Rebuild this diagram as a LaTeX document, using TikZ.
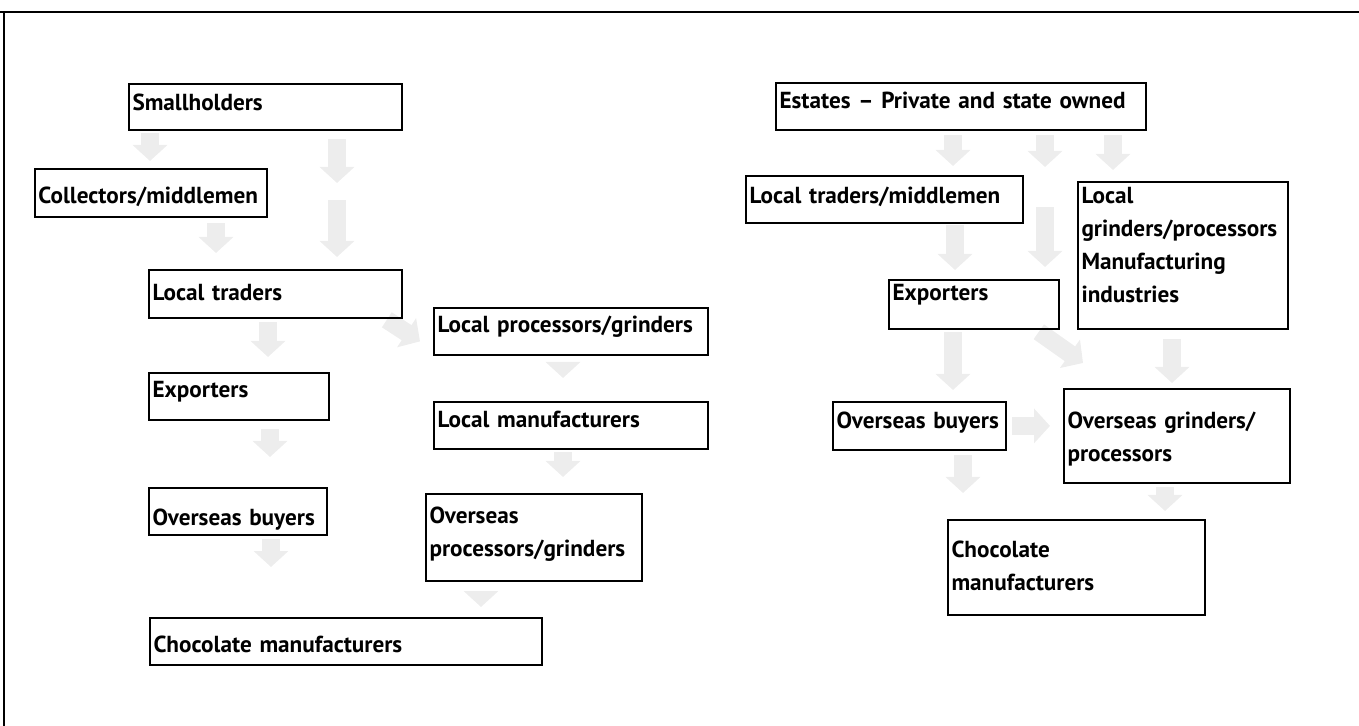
\documentclass[tikz,border=0pt]{standalone}
\usepackage{fontspec}
\setmainfont{PT Sans}
\usetikzlibrary{arrows.meta,calc}
\pgfdeclarelayer{background}
\pgfsetlayers{background,main}

\tikzset{
  box/.style={draw, line width=0.9pt, anchor=north west, inner xsep=1.8pt, inner ysep=0pt,
    align=left, font=\bfseries\fontsize{11.6}{16.5}\selectfont},
  flow/.style={draw=black!7, line width=9pt, -{Triangle[width=17pt,length=8pt]}}
}

\begin{document}
\begin{tikzpicture}[x=0.5pt,y=-0.5pt]
\useasboundingbox (0,0) rectangle (1359,726);
\draw [line width=1pt] (0,12) -- (1359,12);
\draw [line width=1pt] (4,12) -- (4,726);

\node [box, text width=132.9pt, text height=13.5pt, text depth=9.5pt] (sh) at (128,83) {Smallholders};
\node [box, text width=112.4pt, text height=17.5pt, text depth=6.5pt] (cm) at (34,168) {Collectors/middlemen};
\node [box, text width=122.9pt, text height=15.5pt, text depth=8.5pt] (lt) at (148,269) {Local traders};
\node [box, text width=133.4pt, text height=12.5pt, text depth=11pt] (lp) at (433,307) {Local processors/grinders};
\node [box, text width=86.4pt, text height=12.5pt, text depth=11pt] (ex) at (148,372) {Exporters};
\node [box, text width=133.4pt, text height=13pt, text depth=10.5pt] (lm) at (433,401) {Local manufacturers};
\node [box, text width=85.4pt, text height=19pt, text depth=4.5pt] (ob) at (148,487) {Overseas buyers};
\node [box, text width=104.4pt, text height=15pt, text depth=28.5pt] (op) at (425,493) {Overseas\\processors/grinders};
\node [box, text width=192.4pt, text height=17.5pt, text depth=6pt] (ch) at (149,617) {Chocolate manufacturers};

\node [box, text width=181.4pt, text height=13pt, text depth=10.5pt] (es) at (775,82) {Estates -- Private and state owned};
\node [box, text width=134.9pt, text height=14pt, text depth=9.5pt] (ltm) at (745,175) {Local traders/middlemen};
\node [box, text width=101.4pt, text height=11pt, text depth=62.5pt] (lg) at (1077,181) {Local\\grinders/processors\\Manufacturing\\industries};
\node [box, text width=81.4pt, text height=10.5pt, text depth=14pt] (ex2) at (888,279) {Exporters};
\node [box, text width=82.9pt, text height=13.5pt, text depth=10.5pt] (ob2) at (832,401) {Overseas buyers};
\node [box, text width=109.4pt, text height=20pt, text depth=27pt] (og) at (1063,388) {Overseas grinders/\\processors};
\node [box, text width=124.9pt, text height=19pt, text depth=28.5pt] (ch2) at (947,519) {Chocolate\\manufacturers};

\coordinate (sm) at (337,192);
\coordinate (em) at (1045,187);

\begin{pgfonlayer}{background}
\draw [flow, shorten <=1pt, shorten >=3.5pt] (150,0 |- sh.south) -- (150,0 |- cm.north);
\draw [flow, shorten <=4pt, shorten >=4.5pt] (337,0 |- sh.south) -- (sm);
\draw [flow, shorten <=4pt, shorten >=6pt] (sm) -- (337,0 |- lt.north);
\draw [flow, shorten <=2.5pt, shorten >=8pt] (216,0 |- cm.south) -- (216,0 |- lt.north);
\draw [flow, shorten <=1.5pt, shorten >=7.5pt] (268,0 |- lt.south) -- (268,0 |- ex.north);
\draw [flow] ($(lt.south east)+(-16,1)$) -- ($(lp.west)+(-13,10)$);
\draw [flow, shorten <=4pt, shorten >=15pt] (270,0 |- ex.south) -- (270,0 |- ob.north);
\draw [flow, shorten <=3pt, shorten >=11.5pt] (563,0 |- lp.south) -- (563,0 |- lm.north);
\draw [flow, shorten <=1pt, shorten >=8pt] (563,0 |- lm.south) -- (563,0 |- op.north);
\draw [flow, shorten <=1.5pt, shorten >=25pt] (271,0 |- ob.south) -- (271,0 |- ch.north);
\draw [flow, shorten <=5pt, shorten >=5pt] (481,0 |- op.south) -- (481,0 |- ch.north);

\draw [flow, shorten <=2pt, shorten >=4.5pt] (953,0 |- es.south) -- (953,0 |- ltm.north);
\draw [flow, shorten <=2pt, shorten >=10pt] (1045,0 |- es.south) -- (em);
\draw [flow, shorten <=10pt, shorten >=6pt] (em) -- (1045,0 |- ex2.north);
\draw [flow, shorten <=2pt, shorten >=5.5pt] (1113,0 |- es.south) -- (1113,0 |- lg.north);
\draw [flow, shorten <=0.5pt, shorten >=4.5pt] (955,0 |- ltm.south) -- (955,0 |- ex2.north);
\draw [flow, shorten <=1pt, shorten >=5.5pt] (953,0 |- ex2.south) -- (953,0 |- ob2.north);
\draw [flow] ($(ex2.south east)+(-21,2)$) -- ($(og.north west)+(20,-25)$);
\draw [flow, shorten <=4.5pt, shorten >=2.5pt] (1172,0 |- lg.south) -- (1172,0 |- og.north);
\draw [flow, shorten <=2.5pt, shorten >=6.5pt] (ob2.east) -- (og.west |- ob2.east);
\draw [flow, shorten <=2pt, shorten >=13pt] (963,0 |- ob2.south) -- (963,0 |- ch2.north);
\draw [flow, shorten <=1.5pt, shorten >=4pt] (1165,0 |- og.south) -- (1165,0 |- ch2.north);
\end{pgfonlayer}
\end{tikzpicture}
\end{document}
